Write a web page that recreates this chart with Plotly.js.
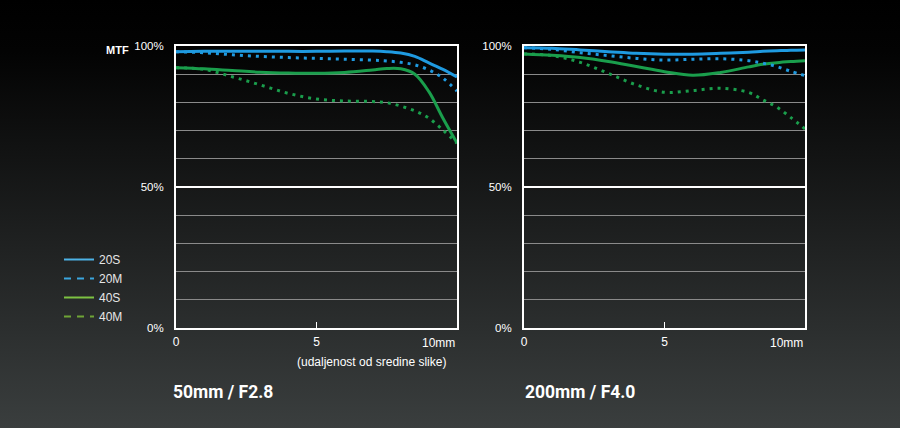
<!DOCTYPE html>
<html>
<head>
<meta charset="utf-8">
<script src="https://cdn.plot.ly/plotly-3.0.1.min.js"></script>
<style>
html,body{margin:0;padding:0;}
body{width:900px;height:428px;background:linear-gradient(to bottom,#000 0%,#030303 12%,#3a3e3e 100%);overflow:hidden;}
#chart{width:900px;height:428px;}
</style>
</head>
<body>
<div id="chart"></div>
<script>
// ---- data ----
const seriesNames = ['20S', '20M', '40S', '40M'];
const xLeft = [0, 1, 2, 3, 4, 5, 6, 7, 7.5, 8, 8.5, 9, 9.5, 10];
const left20S = [98, 98.1, 98.1, 98.1, 98.1, 98.1, 98.2, 98.2, 98, 97.5, 96.3, 94, 91.7, 89];
const left20M = [98, 97.6, 96.9, 96.3, 95.9, 95.6, 95.3, 95, 94.7, 94.2, 93.3, 91.5, 88.6, 84];
const left40S = [92.3, 91.9, 91.3, 90.7, 90.4, 90.3, 90.6, 91.5, 92, 91.9, 90, 83.8, 74.4, 65.6];
const left40M = [92.3, 91.7, 89.1, 86.2, 83.2, 81.2, 80.5, 80.3, 79.9, 78.7, 77, 74.4, 70.2, 65.5];

const xRight = [0, 1, 2, 3, 4, 5, 6, 7, 8, 8.5, 9, 9.5, 10];
const right20S = [99.4, 99.2, 98.6, 98, 97.4, 97.1, 97.1, 97.4, 97.8, 98.1, 98.3, 98.5, 98.6];
const right20M = [99.4, 98.8, 97.6, 96.6, 95.6, 95, 95.3, 95.5, 94.8, 93.9, 92.7, 91.0, 89.5];
const right40S = [97.2, 96.7, 95.9, 94.5, 92.7, 90.9, 89.6, 90.6, 92.6, 93.5, 94.1, 94.5, 94.8];
const right40M = [97.2, 96.6, 94.2, 90.3, 86.2, 83.6, 84.2, 85, 83.5, 80.9, 78.3, 74.6, 70.6];

const xTickVals = [0, 5, 10];
const xTickText = ['0', '5', ''];
const yTickVals = [0, 10, 20, 30, 40, 50, 60, 70, 80, 90, 100];
const yTickText = ['0%', '', '', '', '', '50%', '', '', '', '', '100%'];

// ---- styles ----
const BLUE = '#1f9ae0', GREEN = '#1a9e4c';
const LEG = ['#4db3e6', '#3aa6de', '#7dc242', '#6ea436'];
const DOT = '3px,5px';
const font = 'Liberation Sans, Arial, sans-serif';
const titleFont = 'Roboto, sans-serif';

function tr(x, y, color, dash, xa, ya) {
  return {x: x, y: y, type: 'scatter', mode: 'lines', xaxis: xa, yaxis: ya, showlegend: false,
    hoverinfo: 'skip', line: {color: color, width: 3, dash: dash, shape: 'spline', smoothing: 1}};
}
const traces = [
  tr(xLeft, left40M, GREEN, DOT, 'x', 'y'),
  tr(xLeft, left40S, GREEN, 'solid', 'x', 'y'),
  tr(xLeft, left20M, BLUE, DOT, 'x', 'y'),
  tr(xLeft, left20S, BLUE, 'solid', 'x', 'y'),
  tr(xRight, right40M, GREEN, DOT, 'x2', 'y2'),
  tr(xRight, right40S, GREEN, 'solid', 'x2', 'y2'),
  tr(xRight, right20M, BLUE, DOT, 'x2', 'y2'),
  tr(xRight, right20S, BLUE, 'solid', 'x2', 'y2')
];
// legend entries
seriesNames.forEach((n, i) => {
  traces.push({x: [null], y: [null], type: 'scatter', mode: 'lines', name: n, showlegend: true,
    hoverinfo: 'skip', line: {color: LEG[i], width: 2, dash: (i % 2 ? '7px,6px' : 'solid')}});
});

const yTop = 1 - 46 / 428, yBot = 1 - 328 / 428;
function xax(d) {
  return {domain: d, range: [0, 10], showgrid: false, zeroline: false, showline: true, mirror: true,
    linecolor: '#ffffff', linewidth: 2, ticks: 'inside', ticklen: 6, tickwidth: 1.5, tickcolor: '#ffffff',
    tickvals: xTickVals, ticktext: xTickText, tickfont: {family: font, size: 12, color: '#ffffff'},
    ticklabelstandoff: 2, fixedrange: true};
}
function yax(anchor) {
  return {domain: [yBot, yTop], range: [0, 100], anchor: anchor, showgrid: true, gridcolor: '#8a8a8a',
    gridwidth: 1, zeroline: false, showline: true, mirror: true, linecolor: '#ffffff', linewidth: 2,
    ticks: '', tickvals: yTickVals, ticktext: yTickText, tickfont: {family: font, size: 11.5, color: '#ffffff'},
    ticklabelstandoff: 8, fixedrange: true};
}

const layout = {
  width: 900, height: 428,
  margin: {l: 0, r: 0, t: 0, b: 0},
  paper_bgcolor: 'rgba(0,0,0,0)', plot_bgcolor: 'rgba(0,0,0,0)',
  font: {family: font, color: '#ffffff'},
  xaxis: xax([176 / 900, 457 / 900]),
  yaxis: yax('x'),
  xaxis2: Object.assign(xax([524 / 900, 805 / 900]), {anchor: 'y2'}),
  yaxis2: yax('x2'),
  showlegend: true,
  legend: {x: 59 / 900, y: 1 - 245 / 428, xanchor: 'left', yanchor: 'top', bgcolor: 'rgba(0,0,0,0)',
    font: {family: font, size: 12, color: '#e6e6e6'}, tracegroupgap: 0},
  shapes: [
    {type: 'line', xref: 'x domain', yref: 'y', x0: 0, x1: 1, y0: 50, y1: 50, line: {color: '#ffffff', width: 2}},
    {type: 'line', xref: 'x2 domain', yref: 'y2', x0: 0, x1: 1, y0: 50, y1: 50, line: {color: '#ffffff', width: 2}}
  ],
  annotations: [
    {text: '<b>MTF</b>', xref: 'paper', yref: 'paper', x: 104 / 900, y: 1 - 50 / 428, xanchor: 'left', yanchor: 'middle',
      showarrow: false, font: {family: font, size: 11, color: '#ffffff'}},
    {text: '10mm', xref: 'x', yref: 'paper', x: 10, y: 1 - 343 / 428, xanchor: 'right', yanchor: 'middle',
      showarrow: false, font: {family: font, size: 12, color: '#ffffff'}},
    {text: '10mm', xref: 'x2', yref: 'paper', x: 10, y: 1 - 343 / 428, xanchor: 'right', yanchor: 'middle',
      showarrow: false, font: {family: font, size: 12, color: '#ffffff'}},
    {text: '(udaljenost od sredine slike)', xref: 'paper', yref: 'paper', x: 295 / 900, y: 1 - 362 / 428,
      xanchor: 'left', yanchor: 'middle', showarrow: false, font: {family: font, size: 12, color: '#ffffff'}},
    {text: '<b>50mm / F2.8</b>', xref: 'paper', yref: 'paper', x: 171 / 900, y: 1 - 392 / 428,
      xanchor: 'left', yanchor: 'middle', showarrow: false,
      font: {family: titleFont, size: 17.5, color: '#ffffff'}},
    {text: '<b>200mm / F4.0</b>', xref: 'paper', yref: 'paper', x: 523 / 900, y: 1 - 392 / 428,
      xanchor: 'left', yanchor: 'middle', showarrow: false,
      font: {family: titleFont, size: 17.5, color: '#ffffff'}}
  ]
};

Plotly.newPlot('chart', traces, layout, {displayModeBar: false, staticPlot: true});
</script>
</body>
</html>
